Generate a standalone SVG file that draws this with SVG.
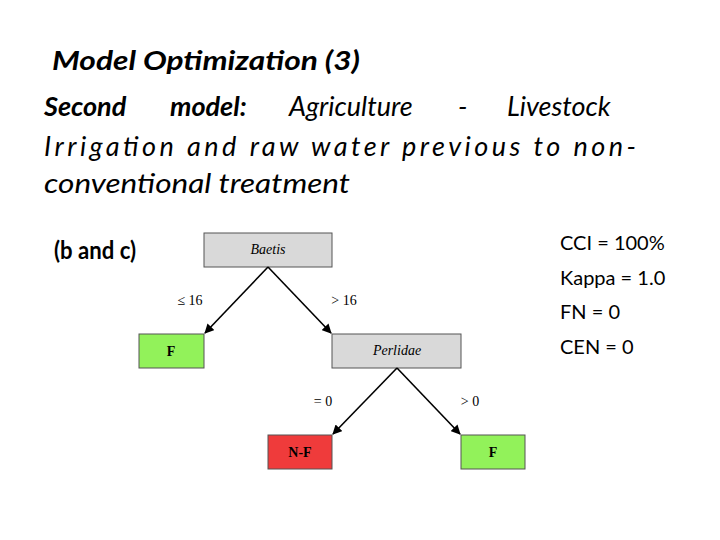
<svg xmlns="http://www.w3.org/2000/svg" width="720" height="540" viewBox="0 0 720 540">
<style>
.t{font-family:Lato,"Open Sans",sans-serif;font-style:italic;font-size:27px;fill:#000}
.s{font-family:"Liberation Serif",serif;font-size:14px;fill:#000}
.r{font-family:Lato,"Open Sans",sans-serif;font-size:20px;fill:#000}
.box{stroke:#555;stroke-width:1}
.c line{stroke:#000;stroke-width:1.6;marker-end:url(#a)}
</style>
<defs><marker id="a" viewBox="0 0 10 10" refX="9" refY="5" markerWidth="6" markerHeight="6" orient="auto"><path d="M0,0L10,5L0,10z" fill="#000"/></marker></defs>
<rect width="720" height="540" fill="#fff"/>
<text class="t" x="52" y="70" font-weight="bold" textLength="308" lengthAdjust="spacingAndGlyphs">Model Optimization (3)</text>
<text class="t" x="44" y="116"><tspan font-weight="bold">Second</tspan><tspan x="170" font-weight="bold">model:</tspan><tspan x="289">Agriculture</tspan><tspan x="458">-</tspan><tspan x="507">Livestock</tspan></text>
<text class="t" x="44" y="156" textLength="592" lengthAdjust="spacing">Irrigation and raw water previous to non-</text>
<text class="t" x="44" y="193" textLength="306" lengthAdjust="spacingAndGlyphs">conventional treatment</text>
<text x="54" y="259" style="font-family:Lato,'Open Sans',sans-serif;font-weight:bold;font-size:24px" textLength="82" lengthAdjust="spacingAndGlyphs">(b and c)</text>
<g id="n-baetis"><rect class="box" x="204" y="233" width="128" height="34" fill="#d9d9d9"/><text class="s" x="268" y="254" text-anchor="middle" font-style="italic">Baetis</text></g>
<g id="n-f1"><rect class="box" x="139" y="334" width="65" height="34" fill="#92f25a"/><text class="s" x="171" y="356" text-anchor="middle" font-weight="bold">F</text></g>
<g id="n-perlidae"><rect class="box" x="332" y="334" width="129" height="34" fill="#d9d9d9"/><text class="s" x="397" y="355" text-anchor="middle" font-style="italic">Perlidae</text></g>
<g id="n-nf"><rect class="box" x="268" y="435" width="64" height="34" fill="#ef3b3b"/><text class="s" x="300" y="457" text-anchor="middle" font-weight="bold">N-F</text></g>
<g id="n-f2"><rect class="box" x="461" y="435" width="64" height="34" fill="#92f25a"/><text class="s" x="493" y="457" text-anchor="middle" font-weight="bold">F</text></g>
<g class="c" id="connectors">
<line x1="268" y1="267" x2="205" y2="333"/>
<line x1="268" y1="267" x2="331" y2="333"/>
<line x1="397" y1="368" x2="333" y2="434"/>
<line x1="397" y1="368" x2="460" y2="434"/>
</g>
<text class="s" x="190" y="305" text-anchor="middle">≤ 16</text>
<text class="s" x="344" y="305" text-anchor="middle">&gt; 16</text>
<text class="s" x="323" y="406" text-anchor="middle">= 0</text>
<text class="s" x="470" y="406" text-anchor="middle">&gt; 0</text>
<text class="r" x="560" y="250">CCI = 100%</text>
<text class="r" x="560" y="285">Kappa = 1.0</text>
<text class="r" x="560" y="319">FN = 0</text>
<text class="r" x="560" y="354">CEN = 0</text>
</svg>
